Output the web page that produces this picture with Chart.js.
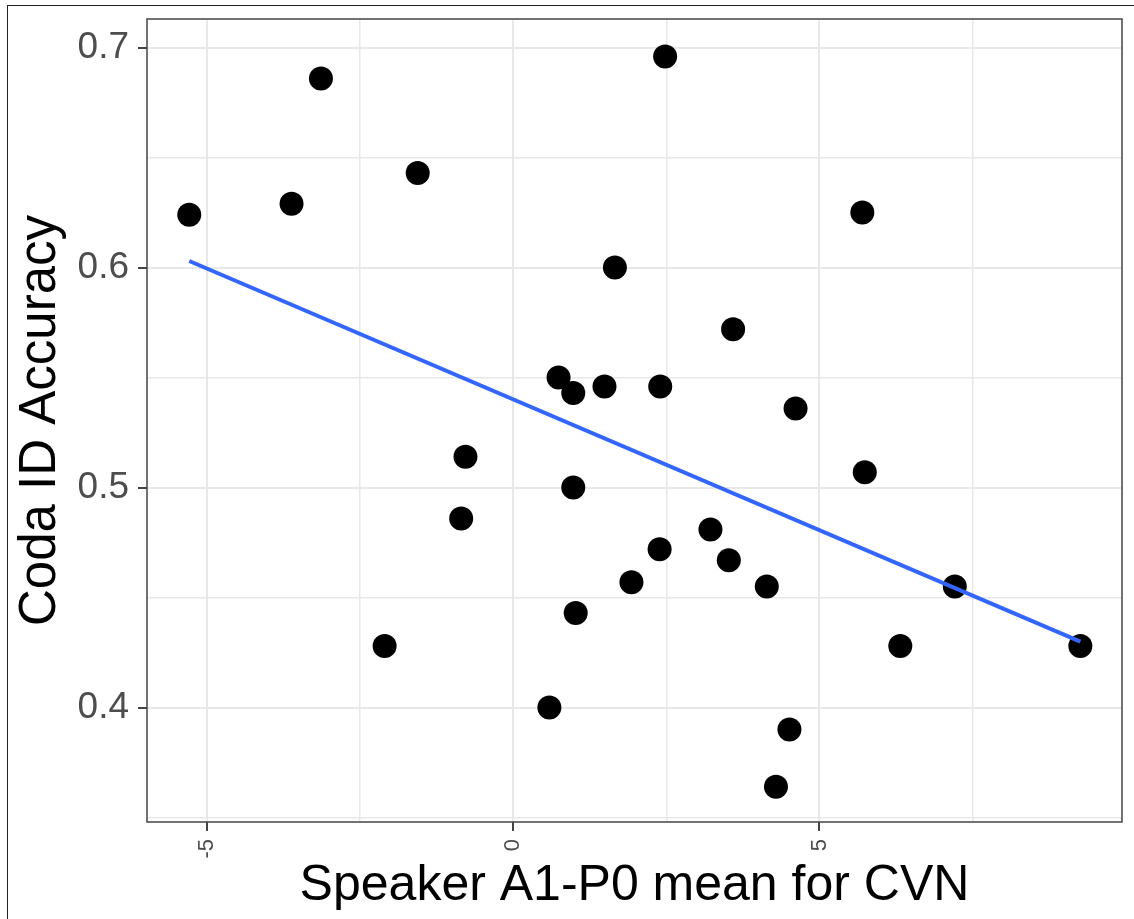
<!DOCTYPE html>
<html>
<head>
<meta charset="utf-8">
<script src="https://cdn.jsdelivr.net/npm/chart.js@4.4.1/dist/chart.umd.min.js"></script>
<style>
  html, body { margin: 0; padding: 0; background: #fff; }
  #wrap { position: relative; width: 1134px; height: 919px; }
  #frame {
    position: absolute; left: 7px; top: 5px; right: 0; bottom: 0;
    border-left: 1.5px solid #222; border-top: 1.5px solid #222;
    pointer-events: none;
  }
</style>
</head>
<body>
<div id="wrap">
  <canvas id="scatterChart"></canvas>
  <div id="frame"></div>
</div>
<script>
// One point per speaker: A1-P0 mean for CVN (x) vs coda ID accuracy (y)
const speakerA1P0 = [-5.29, -3.62, -3.14, -1.56, 2.48, 5.70, 1.66, 3.59, 0.74, 0.98,
                     1.49, 2.40, 4.61, -0.78, -0.85, 0.98, 5.74, 3.22, 3.52, 2.39,
                     1.93, 4.14, 1.02, 7.21, -2.10, 6.32, 9.26, 0.59, 4.51, 4.29];
const codaAccuracy = [0.624, 0.629, 0.686, 0.643, 0.696, 0.625, 0.600, 0.572, 0.550, 0.543,
                      0.546, 0.546, 0.536, 0.514, 0.486, 0.500, 0.507, 0.481, 0.467, 0.472,
                      0.457, 0.455, 0.443, 0.455, 0.428, 0.428, 0.428, 0.400, 0.390, 0.364];

// Linear fit, endpoints
const fitX = [-5.29, 9.26];
const fitY = [0.603, 0.430];

// Axis ticks (grid lines) and the ones that carry a label
const xGridTicks = [-5, -2.5, 0, 2.5, 5, 7.5];
const xTickLabels = [-5, 0, 5];
const yGridTicks = [0.35, 0.4, 0.45, 0.5, 0.55, 0.6, 0.65, 0.7];
const yTickLabels = [0.4, 0.5, 0.6, 0.7];

const isIn = (list, v) => list.some(t => Math.abs(t - v) < 1e-6);

// ggplot style panel border
const panelBorder = {
    id: 'panelBorder',
    afterDraw(chart) {
        const { ctx, chartArea: a } = chart;
        ctx.save();
        ctx.strokeStyle = '#444';
        ctx.lineWidth = 1.5;
        ctx.strokeRect(a.left, a.top, a.right - a.left, a.bottom - a.top);
        ctx.restore();
    }
};

const gridOpts = list => ({
    color: '#e8e8e8',
    lineWidth: c => (c.tick && isIn(list, c.tick.value)) ? 2 : 1.5,
    tickLength: 9,
    tickWidth: 2,
    tickColor: c => (c.tick && isIn(list, c.tick.value)) ? '#444' : 'rgba(0,0,0,0)'
});

const ctx = document.getElementById('scatterChart').getContext('2d');
new Chart(ctx, {
    type: 'scatter',
    data: {
        datasets: [
            {
                label: 'fit',
                data: fitX.map((x, i) => ({ x, y: fitY[i] })),
                showLine: true,
                borderColor: '#3366FF',
                borderWidth: 4,
                pointRadius: 0,
                order: 0
            },
            {
                label: 'speakers',
                data: speakerA1P0.map((x, i) => ({ x, y: codaAccuracy[i] })),
                backgroundColor: '#000',
                borderWidth: 0,
                pointRadius: 12,
                order: 1
            }
        ]
    },
    options: {
        responsive: true,
        maintainAspectRatio: false,
        animation: false,
        layout: { padding: { top: 19, right: 8, bottom: 0, left: 0 } },
        plugins: {
            legend: { display: false },
            tooltip: { enabled: false }
        },
        scales: {
            x: {
                type: 'linear',
                min: -5.98,
                max: 9.94,
                afterBuildTicks: s => { s.ticks = xGridTicks.map(value => ({ value })); },
                afterFit: s => {
                    s.height = 97;
                    s.paddingLeft = 0;
                    s.paddingRight = 0;
                },
                border: { display: false },
                grid: gridOpts(xTickLabels),
                ticks: {
                    minRotation: 90,
                    maxRotation: 90,
                    autoSkip: false,
                    padding: 8,
                    color: '#4d4d4d',
                    font: { family: "'Liberation Sans', Arial, sans-serif", size: 22 },
                    callback: v => isIn(xTickLabels, v) ? String(v) : ''
                },
                title: {
                    display: true,
                    text: 'Speaker A1-P0 mean for CVN',
                    color: '#000',
                    padding: { top: 0, bottom: 3 },
                    font: { family: "'Liberation Sans', Arial, sans-serif", size: 50 }
                }
            },
            y: {
                type: 'linear',
                min: 0.348,
                max: 0.713,
                afterBuildTicks: s => { s.ticks = yGridTicks.map(value => ({ value })); },
                afterFit: s => {
                    s.width = 147;
                    s.paddingTop = 0;
                    s.paddingBottom = 0;
                },
                border: { display: false },
                grid: gridOpts(yTickLabels),
                ticks: {
                    autoSkip: false,
                    padding: 9,
                    color: '#4d4d4d',
                    font: { family: "'Liberation Sans', Arial, sans-serif", size: 37 },
                    callback: v => isIn(yTickLabels, v) ? v.toFixed(1) : ''
                },
                title: {
                    display: true,
                    text: 'Coda ID Accuracy',
                    color: '#000',
                    padding: { top: 10, bottom: 0 },
                    font: { family: "'Liberation Sans', Arial, sans-serif", size: 51 }
                }
            }
        }
    },
    plugins: [panelBorder]
});
</script>
</body>
</html>
